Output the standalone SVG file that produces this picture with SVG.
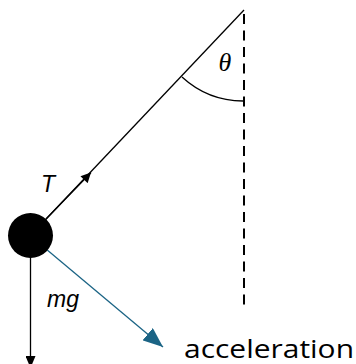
<svg xmlns="http://www.w3.org/2000/svg" width="356" height="364" viewBox="0 0 356 364">
<defs>
<style>
.ln{stroke:#000;stroke-width:1.3;fill:none}
.lbl{font-family:"Liberation Sans",Arial,sans-serif;font-style:italic;font-size:23px;fill:#000}
</style>
<marker id="ah" viewBox="0 0 10 10" refX="10" refY="5" markerWidth="11" markerHeight="10" markerUnits="userSpaceOnUse" orient="auto"><path d="M0,0 L10,5 L0,10 Z" fill="#000"/></marker>
<marker id="ahb" viewBox="0 0 10 10" refX="10" refY="5" markerWidth="20" markerHeight="16" markerUnits="userSpaceOnUse" orient="auto" preserveAspectRatio="none"><path d="M0,0 L10,5 L0,10 Z" fill="#1b6485"/></marker>
<marker id="ahd" viewBox="0 0 10 10" refX="10" refY="5" markerWidth="12" markerHeight="10" markerUnits="userSpaceOnUse" orient="auto" preserveAspectRatio="none"><path d="M0,0 L10,5 L0,10 Z" fill="#000"/></marker>
</defs>
<g id="connectors">
<line class="ln" x1="244" y1="10" x2="244" y2="305" stroke-dasharray="10,6.5" stroke-dashoffset="12.5" style="stroke-width:2"/>
<line class="ln" x1="244" y1="10" x2="30.5" y2="235.5"/>
<line class="ln" x1="46" y1="219" x2="91" y2="172.5" marker-end="url(#ah)"/>
<path class="ln" d="M182,77 A91,91 0 0 0 243,101"/>
<line class="ln" x1="30.5" y1="257" x2="30.5" y2="368" marker-end="url(#ahd)"/>
<line x1="30.5" y1="236" x2="163" y2="347" stroke="#1b6485" stroke-width="1.3" marker-end="url(#ahb)"/>
</g>
<g id="ball"><circle cx="30.5" cy="235.5" r="22.5" fill="#000"/></g>
<g id="label-theta"><text x="225" y="71" text-anchor="middle" font-family="Liberation Serif,serif" font-style="italic" font-size="26">θ</text></g>
<g id="label-T"><text class="lbl" x="41" y="192">T</text></g>
<g id="label-mg"><text class="lbl" x="47" y="307">mg</text></g>
<g id="label-acceleration"><text x="184" y="358" font-family="'Open Sans',sans-serif" font-size="25" textLength="170" lengthAdjust="spacingAndGlyphs">acceleration</text></g>
</svg>
